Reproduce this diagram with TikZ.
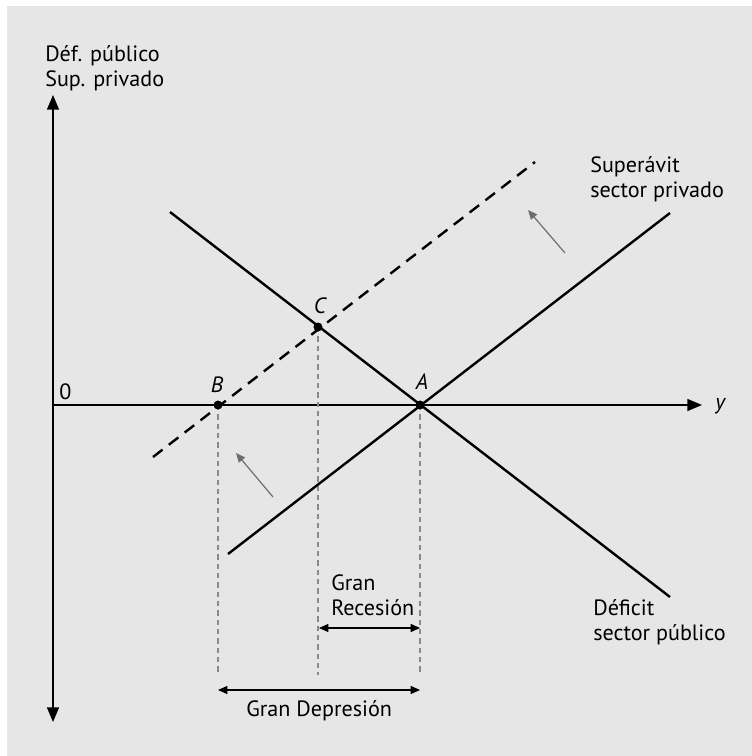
\documentclass[tikz,border=0pt]{standalone}
\usepackage{fontspec}
\setmainfont{PT Sans}
\usetikzlibrary{arrows.meta}
\definecolor{bg}{HTML}{E6E6E6}
\definecolor{guide}{HTML}{8A8A8A}
\begin{document}
\begin{tikzpicture}[x=0.75pt,y=-0.75pt,
  lbl/.style={inner sep=0pt,font=\fontsize{16.6}{19}\selectfont,align=left},
  ptdot/.style={circle,fill=black,inner sep=0pt,minimum size=6.5pt},
  axisline/.style={line width=1pt,-{Triangle[length=11pt,width=9pt]}},
  mainline/.style={line width=1.8pt},
  guideline/.style={guide,line width=0.8pt,dash pattern=on 4pt off 3pt},
  dimline/.style={line width=0.8pt,{Triangle[length=7pt,width=6pt]}-{Triangle[length=7pt,width=6pt]}},
  shiftarrow/.style={guide!80!black,line width=0.9pt,-{Triangle[length=7pt,width=6pt]}}]
\useasboundingbox (0,0) rectangle (752,756);
\fill[white] (0,0) rectangle (752,756);
\fill[bg] (7,6) rectangle (752,756);
% origin and axes
\coordinate (O) at (53,405);
\coordinate (Ytop) at (53,95);
\coordinate (Ybot) at (53,722);
\coordinate (Xend) at (702,405);
\draw[axisline] (O) -- (Ytop);
\draw[axisline] (O) -- (Ybot);
\draw[axisline] (O) -- (Xend);
% points
\node[ptdot] (A) at (420,405) {};
\node[ptdot] (B) at (218,405) {};
\node[ptdot] (C) at (318,327) {};
% line ends
\coordinate (D1) at (170,212);
\coordinate (D2) at (670,597);
\coordinate (S1) at (228,554);
\coordinate (S2) at (670,213);
\coordinate (T1) at (153,457);
\coordinate (T2) at (535,162);
% guides
\coordinate (Bg) at (218,675);
\coordinate (Cg) at (318,675);
\coordinate (Ag) at (420,675);
\draw[guideline] (B.center) -- (Bg);
\draw[guideline] (C.center) -- (Cg);
\draw[guideline] (A.center) -- (Ag);
% main lines
\draw[mainline] (D1) -- (D2);
\draw[mainline] (S1) -- (S2);
\draw[mainline,dash pattern=on 9pt off 6pt] (T1) -- (T2);
\node[ptdot] at (A) {};
\node[ptdot] at (B) {};
\node[ptdot] at (C) {};
% shift arrows
\coordinate (a1s) at (565,253);
\coordinate (a1e) at (528,210);
\coordinate (a2s) at (273,497);
\coordinate (a2e) at (236,453);
\draw[shiftarrow] (a1s) -- (a1e);
\draw[shiftarrow] (a2s) -- (a2e);
% dimension arrows
\coordinate (r1) at (319,628);
\coordinate (r2) at (420,628);
\coordinate (d1) at (218,690);
\coordinate (d2) at (420,690);
\draw[dimline] (r1) -- (r2);
\draw[dimline] (d1) -- (d2);
% labels
\node[lbl,anchor=base west] (yl) at (45,62) {Déf. público};
\node[lbl,anchor=base west] (yl2) at (45,87) {Sup. privado};
\node[lbl,anchor=base west] (zero) at (59,399) {0};
\node[lbl,anchor=base west] (xl) at (715,409) {\itshape y};
\node[lbl,anchor=base] (Bl) at (217,392) {\itshape B};
\node[lbl,anchor=base] (Al) at (422,389) {\itshape A};
\node[lbl,anchor=base] (Cl) at (320,313) {\itshape C};
\node[lbl,anchor=base west] (sp1) at (590,172) {Superávit};
\node[lbl,anchor=base west] (sp2) at (590,197) {sector privado};
\node[lbl,anchor=base west] (dp1) at (593,615) {Déficit};
\node[lbl,anchor=base west] (dp2) at (593,640) {sector público};
\node[lbl,anchor=base west] (gr1) at (331,590) {Gran};
\node[lbl,anchor=base west] (gr2) at (331,615) {Recesión};
\node[lbl,anchor=base west] (gd) at (246,716) {Gran Depresión};
\end{tikzpicture}
\end{document}
